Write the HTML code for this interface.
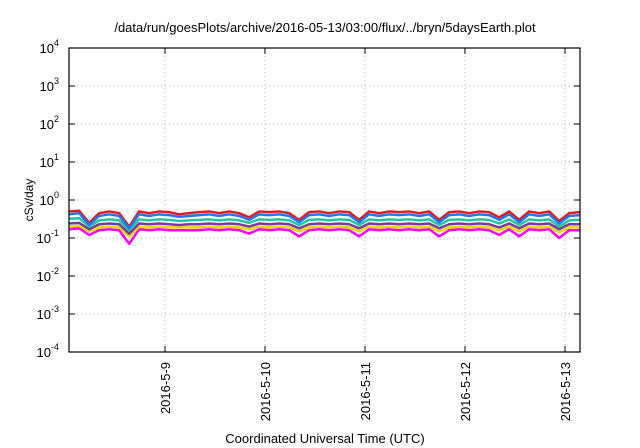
<!DOCTYPE html>
<html><head><meta charset="utf-8"><style>
body{margin:0;background:#fff;}
svg{display:block;font-family:"Liberation Sans",sans-serif;}
</style></head><body>
<svg id="chart" width="640" height="448">
<text x="325" y="32" font-size="13" text-anchor="middle">/data/run/goesPlots/archive/2016-05-13/03:00/flux/../bryn/5daysEarth.plot</text>
<text transform="translate(33,200) rotate(-90)" font-size="12" text-anchor="middle">cSv/day</text>
<text x="325" y="443" font-size="13" text-anchor="middle">Coordinated Universal Time (UTC)</text>
<g id="grid"></g><g id="series"></g><g id="axes"></g>
</svg>
<script>
const hours=[1,3.4,5.8,8.2,10.6,13,15.4,17.8,20.2,22.6,25,27.4,29.8,32.2,34.6,37,39.4,41.8,44.2,46.6,49,51.4,53.8,56.2,58.6,61,63.4,65.8,68.2,70.6,73,75.4,77.8,80.2,82.6,85,87.4,89.8,92.2,94.6,97,99.4,101.8,104.2,106.6,109,111.4,113.8,116.2,118.6,121,123.6];
const red=[0.5,0.52,0.25,0.45,0.5,0.45,0.2,0.5,0.45,0.5,0.48,0.42,0.45,0.48,0.5,0.45,0.5,0.45,0.35,0.5,0.48,0.5,0.45,0.3,0.48,0.5,0.45,0.5,0.48,0.3,0.5,0.45,0.5,0.48,0.5,0.45,0.5,0.3,0.48,0.5,0.45,0.5,0.48,0.35,0.5,0.3,0.5,0.45,0.5,0.28,0.45,0.48];
const blue=[0.42,0.45,0.22,0.38,0.42,0.38,0.18,0.42,0.38,0.42,0.4,0.36,0.38,0.4,0.42,0.38,0.42,0.38,0.3,0.42,0.4,0.42,0.38,0.26,0.4,0.42,0.38,0.42,0.4,0.26,0.42,0.38,0.42,0.4,0.42,0.38,0.42,0.26,0.4,0.42,0.38,0.42,0.4,0.3,0.42,0.26,0.42,0.38,0.42,0.24,0.38,0.4];
const cyan=[0.32,0.33,0.2,0.29,0.31,0.29,0.16,0.31,0.29,0.31,0.3,0.28,0.29,0.3,0.31,0.29,0.31,0.29,0.25,0.31,0.3,0.31,0.29,0.22,0.3,0.31,0.29,0.31,0.3,0.22,0.31,0.29,0.31,0.3,0.31,0.29,0.31,0.22,0.3,0.31,0.29,0.31,0.3,0.24,0.31,0.22,0.31,0.29,0.31,0.2,0.29,0.3];
const purple=[0.24,0.25,0.17,0.23,0.24,0.23,0.13,0.24,0.23,0.24,0.23,0.22,0.23,0.23,0.24,0.23,0.24,0.23,0.2,0.24,0.23,0.24,0.23,0.18,0.23,0.24,0.23,0.24,0.23,0.18,0.24,0.23,0.24,0.23,0.24,0.23,0.24,0.18,0.23,0.24,0.23,0.24,0.23,0.19,0.24,0.18,0.24,0.23,0.24,0.17,0.23,0.23];
const yellow=[0.2,0.21,0.15,0.19,0.2,0.19,0.11,0.2,0.19,0.2,0.19,0.19,0.19,0.19,0.2,0.19,0.2,0.19,0.17,0.2,0.19,0.2,0.19,0.15,0.19,0.2,0.19,0.2,0.19,0.15,0.2,0.19,0.2,0.19,0.2,0.19,0.2,0.15,0.19,0.2,0.19,0.2,0.19,0.16,0.2,0.15,0.2,0.19,0.2,0.14,0.19,0.19];
const magenta=[0.17,0.18,0.12,0.16,0.17,0.16,0.07,0.17,0.16,0.17,0.16,0.16,0.16,0.16,0.17,0.16,0.17,0.16,0.13,0.17,0.16,0.17,0.16,0.11,0.16,0.17,0.16,0.17,0.16,0.11,0.17,0.16,0.17,0.16,0.17,0.16,0.17,0.11,0.16,0.17,0.16,0.17,0.16,0.12,0.17,0.11,0.17,0.16,0.17,0.1,0.16,0.16];
const yTickExps=[-4,-3,-2,-1,0,1,2,3,4];
const xTickHours=[24,48,72,96,120];
const xTickLabels=["2016-5-9","2016-5-10","2016-5-11","2016-5-12","2016-5-13"];
const X0=69,X1=580,Y0=352,Y1=48,H0=0.96,H1=123.6;
const xs=h=>X0+(h-H0)/(H1-H0)*(X1-X0);
const ys=v=>Y0-(Math.log10(v)+4)/8*(Y0-Y1);
const NS='http://www.w3.org/2000/svg';
function mk(t,a,p){const e=document.createElementNS(NS,t);for(const k in a)e.setAttribute(k,a[k]);p.appendChild(e);return e;}
const grid=document.getElementById('grid'),ser=document.getElementById('series'),ax=document.getElementById('axes');
yTickExps.forEach(e=>{const y=ys(Math.pow(10,e));
 if(e>-4&&e<4){const l=mk('line',{x1:X0,x2:X1,y1:y,y2:y,stroke:'#bbb','stroke-dasharray':'1,3'},grid);
 
 }
 const t1=mk('line',{x1:X0,x2:X0+6,y1:y,y2:y,stroke:'#000'},ax);
 const t2=mk('line',{x1:X1-6,x2:X1,y1:y,y2:y,stroke:'#000'},ax);
 const tx=mk('text',{x:X0-10,y:y+5,'font-size':13,'text-anchor':'end'},ax);
 
 
 tx.textContent='10';const s=mk('tspan',{dy:-7,'font-size':9},tx);s.textContent=String(e);
});
xTickHours.forEach((h,i)=>{const x=xs(h);
 const l=mk('line',{x1:x,x2:x,y1:Y1,y2:Y0,stroke:'#bbb','stroke-dasharray':'1,3'},grid);
 
 
 const t1=mk('line',{x1:x,x2:x,y1:Y0-6,y2:Y0,stroke:'#000'},ax);
 const t2=mk('line',{x1:x,x2:x,y1:Y1,y2:Y1+6,stroke:'#000'},ax);
 const tx=mk('text',{transform:`translate(${x+5},${Y0+10}) rotate(-90)`,'font-size':13,'text-anchor':'end'},ax);
 
 
 tx.textContent=xTickLabels[i];
});
const fr=mk('rect',{x:X0,y:Y1,width:X1-X0,height:Y0-Y1,fill:'none',stroke:'#000','stroke-width':1.2},ax);


const list=[[magenta,'#ff00ff','magenta'],[yellow,'#e8d800','yellow'],[purple,'#7a3a9a','purple'],[cyan,'#20c8a0','cyan'],[red,'#e41a1c','red'],[blue,'#1e78ff','blue']];
list.forEach(([d,c,n])=>{const pts=d.map((v,i)=>xs(hours[i])+','+ys(v)).join(' ');
 const p=mk('polyline',{points:pts,fill:'none',stroke:c,'stroke-width':2.5,'stroke-linejoin':'round'},ser);
 
 
});
</script>
</body></html>
